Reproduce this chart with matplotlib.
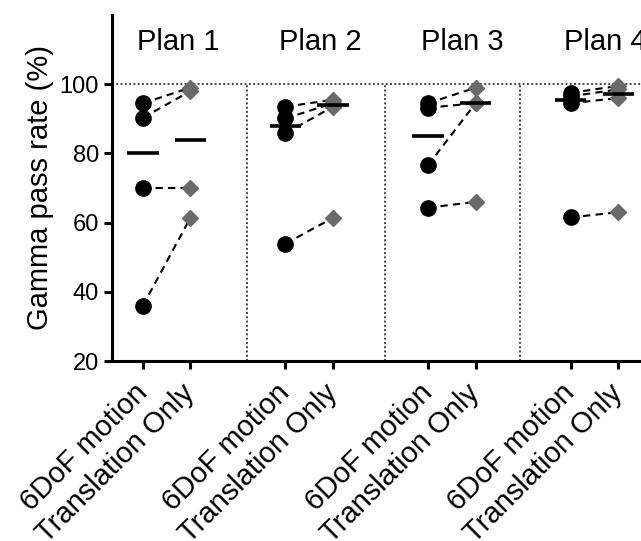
import numpy as np
import matplotlib
matplotlib.use("Agg")
import matplotlib.pyplot as plt

plt.rcParams['font.family'] = ['Liberation Sans', 'DejaVu Sans']

# Data (gamma pass rate, %)
plans = ["Plan 1", "Plan 2", "Plan 3", "Plan 4"]
six_dof = [
    [94.5, 90.3, 70.0, 36.0],
    [93.5, 90.1, 85.8, 53.9],
    [94.5, 93.2, 76.6, 64.3],
    [97.5, 96.5, 94.5, 61.5],
]
translation_only = [
    [99.0, 98.0, 70.0, 61.4],
    [95.5, 94.5, 93.5, 61.4],
    [99.0, 94.5, 94.5, 66.0],
    [99.5, 98.5, 96.0, 63.0],
]
tick_labels = ["6DoF motion", "Translation Only"]

fig = plt.figure(figsize=(6.41, 5.41), dpi=100)
ax = fig.add_axes([112 / 641, 1 - 361 / 541, 1 - 112 / 641, (361 - 15) / 541])

x_ticks = []
x_labels = []
for i, name in enumerate(plans):
    x0, x1 = 3 * i, 3 * i + 1
    for a, b in zip(six_dof[i], translation_only[i]):
        ax.plot([x0, x1], [a, b], color='black', lw=1.5, dashes=(3.5, 2.5), zorder=2)
    ax.plot([x0] * len(six_dof[i]), six_dof[i], 'o', color='black',
            markersize=11, zorder=3, clip_on=False)
    ax.plot([x1] * len(translation_only[i]), translation_only[i], 'D',
            color='#6a6a6a', markersize=8, zorder=3)
    for x, vals in ((x0, six_dof[i]), (x1, translation_only[i])):
        ax.plot([x - 0.33, x + 0.33], [np.median(vals)] * 2, color='black',
                lw=2.6, zorder=4, solid_capstyle='butt')
    ax.text(3 * i - 0.13 - (0.02 if i == 2 else 0), 110, name, fontsize=21,
            ha='left', va='baseline')
    x_ticks += [x0, x1]
    x_labels += tick_labels

# dotted reference lines
ax.axhline(100, color='#444444', lw=1.4, ls=(0, (1, 1.2)), zorder=1)
for xs in (2.18, 5.09, 7.94):
    ax.plot([xs, xs], [20, 100], color='#444444', lw=1.4, ls=(0, (1, 1.2)), zorder=1)

ax.set_xlim(-0.65, 10.48)
ax.set_ylim(20, 120)
ax.set_yticks([20, 40, 60, 80, 100])
ax.set_xticks(x_ticks)
ax.set_xticklabels(x_labels, rotation=45, ha='right', va='center',
                   rotation_mode='anchor', fontsize=21)
ax.tick_params(axis='x', pad=14, length=6, width=2.2)
ax.tick_params(axis='y', labelsize=17, length=6, width=2.2)
ax.set_ylabel("Gamma pass rate (%)", fontsize=21, labelpad=4)

for s in ('top', 'right'):
    ax.spines[s].set_visible(False)
for s in ('left', 'bottom'):
    ax.spines[s].set_linewidth(2.2)

fig.savefig("out.png", dpi=100)
